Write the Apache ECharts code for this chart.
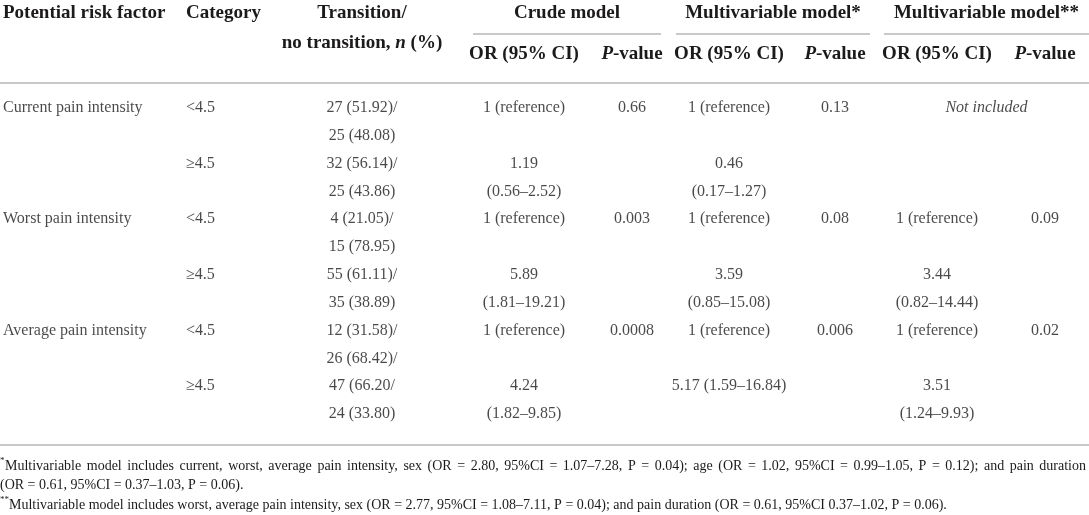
<!DOCTYPE html>
<html>
<head>
<meta charset="utf-8">
<script src="https://cdn.jsdelivr.net/npm/echarts@6/dist/echarts.min.js"></script>
<style>
html, body { margin: 0; padding: 0; background: #fff; }
#chart { width: 1089px; height: 515px; }
</style>
</head>
<body>
<div id="chart"></div>
<script>
// table content, one entry per data row (each data row is two text lines)
var factors = ['Current pain intensity', 'Worst pain intensity', 'Average pain intensity'];
var categories = ['<4.5', '≥4.5', '<4.5', '≥4.5', '<4.5', '≥4.5'];
var transition = ['27 (51.92)/\n25 (48.08)', '32 (56.14)/\n25 (43.86)', '4 (21.05)/\n15 (78.95)',
	'55 (61.11)/\n35 (38.89)', '12 (31.58)/\n26 (68.42)/', '47 (66.20/\n24 (33.80)'];
var crudeOR = ['1 (reference)', '1.19\n(0.56–2.52)', '1 (reference)', '5.89\n(1.81–19.21)', '1 (reference)', '4.24\n(1.82–9.85)'];
var crudeP = ['0.66', '', '0.003', '', '0.0008', ''];
var multi1OR = ['1 (reference)', '0.46\n(0.17–1.27)', '1 (reference)', '3.59\n(0.85–15.08)', '1 (reference)', '5.17 (1.59–16.84)'];
var multi1P = ['0.13', '', '0.08', '', '0.006', ''];
var multi2OR = ['Not included', '', '1 (reference)', '3.44\n(0.82–14.44)', '1 (reference)', '3.51\n(1.24–9.93)'];
var multi2P = ['', '', '0.09', '', '0.02', ''];
var multi2Span = [true, false, false, false, false, false]; // cell spans OR + P, italic

var groupTitles = ['Crude model', 'Multivariable model*', 'Multivariable model**'];
var footMarks = ['*', '', '**'];
var footLines = [
	'Multivariable model includes current, worst, average pain intensity, sex (OR = 2.80, 95%CI = 1.07–7.28, P = 0.04); age (OR = 1.02, 95%CI = 0.99–1.05, P = 0.12); and pain duration',
	'(OR = 0.61, 95%CI = 0.37–1.03, P = 0.06).',
	'Multivariable model includes worst, average pain intensity, sex (OR = 2.77, 95%CI = 1.08–7.11, P = 0.04); and pain duration (OR = 0.61, 95%CI 0.37–1.02, P = 0.06).'
];
var footJustify = [true, false, false];

// layout (pixels)
var colX = [3, 186, 362, 524, 632, 729, 835, 937, 1045];
var colAlign = ['left', 'left', 'center', 'center', 'center', 'center', 'center', 'center', 'center'];
var groupSpan = [[473, 661], [676, 870], [884, 1089]];
var ink = '#1c1a1b';
var ruleColor = '#c9c9c9';
var serif = "'Liberation Serif', 'DejaVu Serif', serif";
var headSize = 19;
var bodySize = 16;
var footSize = 14;
var footRight = 1086;

var factorCol = [];
for (var r = 0; r < categories.length; r++) {
	factorCol[r] = (r % 2 == 0) ? factors[r / 2] : '';
}
var columns = [factorCol, categories, transition, crudeOR, crudeP, multi1OR, multi1P, multi2OR, multi2P];

var lines = [];
for (var i = 0; i < categories.length * 2; i++) lines.push('L' + i);

var series = [];
for (var c = 0; c < columns.length; c++) {
	var pts = [];
	for (var r = 0; r < columns[c].length; r++) {
		if (!columns[c][r]) continue;
		var parts = columns[c][r].split('\n');
		for (var k = 0; k < parts.length; k++) {
			var item = { value: [colX[c], lines[r * 2 + k], parts[k]] };
			if (c == 7 && multi2Span[r]) {
				item.value[0] = (groupSpan[2][0] + groupSpan[2][1]) / 2;
				item.label = { fontStyle: 'italic' };
			}
			pts.push(item);
		}
	}
	series.push({
		type: 'scatter',
		symbolSize: 1,
		itemStyle: { color: 'rgba(0,0,0,0)' },
		silent: true,
		data: pts,
		label: {
			show: true,
			position: 'inside',
			align: colAlign[c],
			verticalAlign: 'middle',
			color: ink,
			fontFamily: serif,
			fontSize: bodySize,
			formatter: function(p) { return p.value[2]; }
		}
	});
}

// header texts and rules
var richHead = {
	b: { fontFamily: serif, fontWeight: 'bold', fontSize: headSize, color: ink },
	bi: { fontFamily: serif, fontWeight: 'bold', fontStyle: 'italic', fontSize: headSize, color: ink }
};
function headText(text, x, y, align, rich) {
	return {
		type: 'text',
		style: {
			text: text, x: x, y: y, align: align, verticalAlign: 'middle',
			font: 'bold ' + headSize + 'px ' + serif, fill: ink, rich: rich
		}
	};
}
function plainText(text, x, y, size) {
	return {
		type: 'text',
		style: { text: text, x: x, y: y, verticalAlign: 'middle', font: size + 'px ' + serif, fill: ink }
	};
}
function rule(x1, x2, y) {
	return { type: 'line', shape: { x1: x1, y1: y, x2: x2, y2: y }, style: { stroke: ruleColor, lineWidth: 2 } };
}

var graphics = [
	headText('Potential risk factor', colX[0], 13, 'left'),
	headText('Category', colX[1], 13, 'left'),
	headText('Transition/', colX[2], 13, 'center'),
	headText('{b|no transition, }{bi|n}{b| (%)}', colX[2], 43, 'center', richHead),
	rule(0, 1089, 83),
	rule(0, 1089, 445)
];
for (var g = 0; g < groupTitles.length; g++) {
	var mid = (groupSpan[g][0] + groupSpan[g][1]) / 2;
	graphics.push(headText(groupTitles[g], mid, 13, 'center'));
	graphics.push(rule(groupSpan[g][0], groupSpan[g][1], 34));
	graphics.push(headText('OR (95% CI)', colX[3 + g * 2], 54, 'center'));
	graphics.push(headText('{bi|P}{b|-value}', colX[4 + g * 2], 54, 'center', richHead));
}

// footnotes; the first line is justified like the printed paragraph
var ctx = document.createElement('canvas').getContext('2d');
ctx.font = footSize + 'px ' + serif;
var footY = [466, 485, 505];
for (var f = 0; f < footLines.length; f++) {
	var x0 = 0;
	if (footMarks[f]) {
		graphics.push(plainText(footMarks[f], 0, footY[f] - 5, 9));
		x0 = footMarks[f].length * 4 + 1;
	}
	if (!footJustify[f]) {
		graphics.push(plainText(footLines[f], x0, footY[f], footSize));
		continue;
	}
	var words = footLines[f].split(' ');
	var total = 0;
	for (var w = 0; w < words.length; w++) total += ctx.measureText(words[w]).width;
	var gap = (footRight - x0 - total) / (words.length - 1);
	var xw = x0;
	for (var w = 0; w < words.length; w++) {
		graphics.push(plainText(words[w], xw, footY[f], footSize));
		xw += ctx.measureText(words[w]).width + gap;
	}
}

var myChart = echarts.init(document.getElementById('chart'), null, { renderer: 'canvas' });
var options = {
	animation: false,
	grid: { left: 0, right: 0, top: 94, bottom: 87 },
	xAxis: { type: 'value', min: 0, max: 1089, show: false },
	yAxis: { type: 'category', data: lines, inverse: true, show: false },
	series: series,
	graphic: graphics
};
myChart.setOption(options);
</script>
</body>
</html>
